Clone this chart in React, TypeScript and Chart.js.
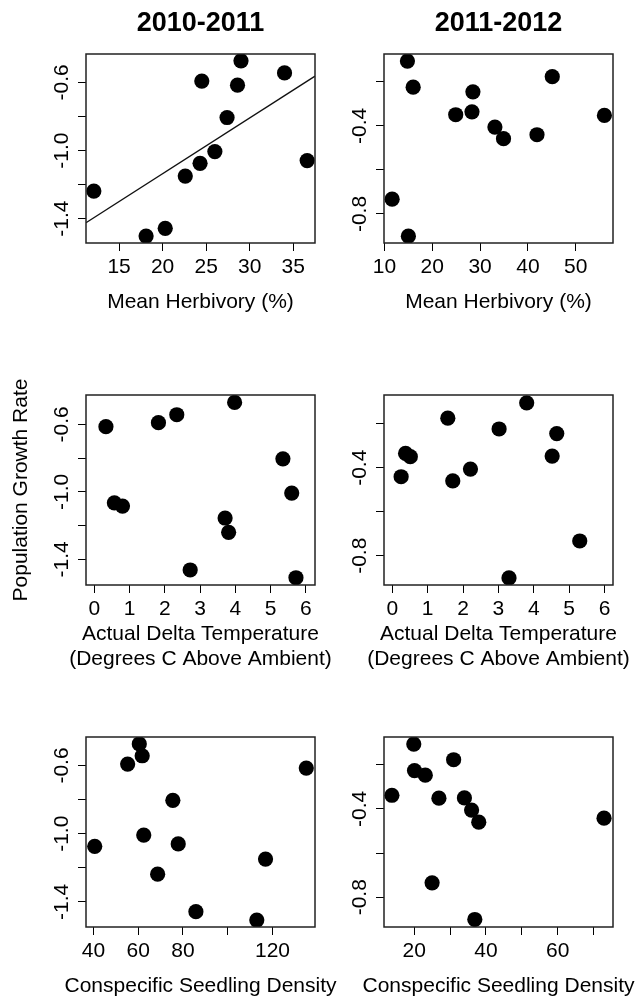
import React, { useEffect, useRef } from "react";
import { Chart, registerables } from "chart.js";

Chart.register(...registerables);

const FONT = '"Liberation Sans", Arial, Helvetica, sans-serif';

// ---------------- data ----------------
const herb1011X = [12.1, 18.1, 20.3, 22.6, 24.3, 24.5, 26.0, 27.4, 28.6, 29.0, 34.0, 36.6];
const herb1011Y = [-1.238, -1.502, -1.457, -1.15, -1.075, -0.592, -1.006, -0.806, -0.616, -0.473, -0.544, -1.059];
const herbFitX = [11.2, 37.5];
const herbFitY = [-1.424, -0.563];

const herb1112X = [14.8, 16.0, 28.5, 24.9, 28.3, 33.1, 34.9, 41.9, 45.1, 56.0, 11.6, 15.0];
const herb1112Y = [-0.105, -0.224, -0.245, -0.349, -0.336, -0.405, -0.458, -0.44, -0.176, -0.352, -0.733, -0.901];

const temp1011X = [0.33, 1.82, 2.34, 3.98, 5.35, 5.6, 0.57, 0.8, 3.71, 3.81, 2.72, 5.72];
const temp1011Y = [-0.614, -0.59, -0.543, -0.47, -0.804, -1.007, -1.065, -1.084, -1.155, -1.24, -1.463, -1.509];

const temp1112X = [0.25, 0.375, 0.51, 1.57, 1.71, 2.21, 3.02, 3.8, 4.52, 4.65, 5.3, 3.3];
const temp1112Y = [-0.441, -0.335, -0.35, -0.175, -0.46, -0.406, -0.224, -0.105, -0.347, -0.245, -0.733, -0.901];

const dens1011X = [60.5, 61.8, 55.3, 135.1, 75.5, 62.5, 40.6, 77.9, 116.9, 68.7, 85.8, 113.0];
const dens1011Y = [-0.474, -0.543, -0.592, -0.615, -0.804, -1.008, -1.074, -1.06, -1.149, -1.237, -1.457, -1.506];

const dens1112X = [19.9, 31.0, 20.1, 23.1, 13.8, 26.9, 34.0, 36.0, 38.0, 72.9, 25.0, 36.9];
const dens1112Y = [-0.106, -0.177, -0.226, -0.247, -0.338, -0.351, -0.35, -0.405, -0.46, -0.442, -0.735, -0.901];

// tick labels (R drops overlapping ones)
const yLabels1011 = ["-0.6", "-1.0", "-1.4"];
const yLabels1112 = ["-0.4", "-0.8"];
const xLabelsHerb1011 = ["15", "20", "25", "30", "35"];
const xLabelsHerb1112 = ["10", "20", "30", "40", "50"];
const xLabelsTemp = ["0", "1", "2", "3", "4", "5", "6"];
const xLabelsDens1011 = ["40", "60", "80", "120"];
const xLabelsDens1112 = ["20", "40", "60"];

const titles = ["2010-2011", "2011-2012"];
const yAxisTitle = "Population Growth Rate";
const xTitleHerb = ["Mean Herbivory (%)"];
const xTitleTemp = ["Actual Delta Temperature", "(Degrees C Above Ambient)"];
const xTitleDens = ["Conspecific Seedling Density"];

// ---------------- layout ----------------
type Panel = {
  key: string;
  x: number[];
  y: number[];
  fitX?: number[];
  fitY?: number[];
  xMin: number; xMax: number; xStep: number; xLabels: string[];
  yMin: number; yMax: number; yLabels: string[];
  xTitle: string[];
  xTitleBaselines: number[];
  yTitle?: string;
  title?: string;
  left: number; top: number; width: number; height: number;
  yAxisW: number; xAxisH: number;
  pad: { left: number; right: number; top: number; bottom: number };
};

const LEFT_COL = { left: 0, width: 360, yAxisW: 86, padR: 45 };
const RIGHT_COL = { left: 300, width: 336, yAxisW: 84, padR: 23 };
const ROW1 = { top: 0, height: 320, padT: 54, padB: 7, xAxisH: 70 };
const ROW2 = { top: 330, height: 350, padT: 65, padB: 10, xAxisH: 85 };
const ROW3 = { top: 690, height: 307, padT: 47, padB: 0, xAxisH: 70 };
const ONE_LINE_BASELINE = [64.5];
const TWO_LINE_BASELINES = [55, 79.5];

function geom(col: typeof LEFT_COL, row: typeof ROW1) {
  return {
    left: col.left, top: row.top, width: col.width, height: row.height,
    yAxisW: col.yAxisW, xAxisH: row.xAxisH,
    pad: { left: 0, right: col.padR, top: row.padT, bottom: row.padB },
  };
}

const panels: Panel[] = [
  {
    key: "p1", x: herb1011X, y: herb1011Y, fitX: herbFitX, fitY: herbFitY,
    xMin: 11.2, xMax: 37.5, xStep: 5, xLabels: xLabelsHerb1011,
    yMin: -1.543, yMax: -0.433, yLabels: yLabels1011,
    xTitle: xTitleHerb, xTitleBaselines: ONE_LINE_BASELINE, title: titles[0], ...geom(LEFT_COL, ROW1),
  },
  {
    key: "p2", x: herb1112X, y: herb1112Y,
    xMin: 9.9, xMax: 57.8, xStep: 10, xLabels: xLabelsHerb1112,
    yMin: -0.932, yMax: -0.073, yLabels: yLabels1112,
    xTitle: xTitleHerb, xTitleBaselines: ONE_LINE_BASELINE, title: titles[1], ...geom(RIGHT_COL, ROW1),
  },
  {
    key: "p3", x: temp1011X, y: temp1011Y,
    xMin: -0.235, xMax: 6.26, xStep: 1, xLabels: xLabelsTemp,
    yMin: -1.552, yMax: -0.426, yLabels: yLabels1011,
    xTitle: xTitleTemp, xTitleBaselines: TWO_LINE_BASELINES, yTitle: yAxisTitle, ...geom(LEFT_COL, ROW2),
  },
  {
    key: "p4", x: temp1112X, y: temp1112Y,
    xMin: -0.234, xMax: 6.24, xStep: 1, xLabels: xLabelsTemp,
    yMin: -0.933, yMax: -0.0695, yLabels: yLabels1112,
    xTitle: xTitleTemp, xTitleBaselines: TWO_LINE_BASELINES, ...geom(RIGHT_COL, ROW2),
  },
  {
    key: "p5", x: dens1011X, y: dens1011Y,
    xMin: 36.7, xMax: 139.0, xStep: 20, xLabels: xLabelsDens1011,
    yMin: -1.547, yMax: -0.433, yLabels: yLabels1011,
    xTitle: xTitleDens, xTitleBaselines: ONE_LINE_BASELINE, ...geom(LEFT_COL, ROW3),
  },
  {
    key: "p6", x: dens1112X, y: dens1112Y,
    xMin: 11.6, xMax: 75.4, xStep: 10, xLabels: xLabelsDens1112,
    yMin: -0.935, yMax: -0.074, yLabels: yLabels1112,
    xTitle: xTitleDens, xTitleBaselines: ONE_LINE_BASELINE, ...geom(RIGHT_COL, ROW3),
  },
];

const boxPlugin = {
  id: "plotBox",
  afterDatasetsDraw(chart: any) {
    const { ctx, chartArea: a } = chart;
    ctx.save();
    ctx.strokeStyle = "#222";
    ctx.lineWidth = 1.5;
    ctx.strokeRect(a.left, a.top, a.right - a.left, a.bottom - a.top);
    ctx.restore();
  },
};

const textPlugin = {
  id: "panelText",
  afterDraw(chart: any, _args: any, opts: any) {
    if (!opts) return;
    const { ctx, chartArea: a } = chart;
    const cx = (a.left + a.right) / 2;
    ctx.save();
    ctx.fillStyle = "#000";
    ctx.textAlign = "center";
    ctx.textBaseline = "alphabetic";
    if (opts.title) {
      ctx.font = `bold 27px ${FONT}`;
      ctx.fillText(opts.title, cx, opts.titleBaseline);
    }
    if (opts.xTitle) {
      ctx.font = `21px ${FONT}`;
      (opts.xTitle as string[]).forEach((line: string, i: number) => {
        ctx.fillText(line, cx, a.bottom + opts.xTitleBaselines[i]);
      });
    }
    ctx.restore();
  },
};

function PanelChart({ p }: { p: Panel }) {
  const ref = useRef<HTMLCanvasElement>(null);
  useEffect(() => {
    const canvas = ref.current;
    if (!canvas) return;
    const datasets: any[] = [
      {
        data: p.x.map((v, i) => ({ x: v, y: p.y[i] })),
        backgroundColor: "#000",
        borderColor: "#000",
        pointRadius: 7.6,
        pointHoverRadius: 7.6,
        pointBorderWidth: 0,
        borderWidth: 0,
        showLine: false,
      },
    ];
    if (p.fitX && p.fitY) {
      datasets.push({
        data: p.fitX.map((v, i) => ({ x: v, y: p.fitY![i] })),
        showLine: true,
        borderColor: "#111",
        borderWidth: 1.3,
        pointRadius: 0,
        pointHoverRadius: 0,
        fill: false,
        tension: 0,
      });
    }
    const tickGrid = {
      display: true,
      drawOnChartArea: false,
      drawTicks: true,
      tickLength: 8,
      color: "#000",
      lineWidth: 1,
    };
    const chart = new Chart(canvas, {
      type: "scatter",
      data: { datasets },
      options: {
        animation: false,
        responsive: false,
        maintainAspectRatio: false,
        devicePixelRatio: 1,
        events: [],
        layout: { autoPadding: false, padding: p.pad },
        plugins: {
          legend: { display: false },
          tooltip: { enabled: false },
          title: { display: false },
          panelText: {
            title: p.title || "",
            titleBaseline: 31,
            xTitle: p.xTitle,
            xTitleBaselines: p.xTitleBaselines,
          },
        } as any,
        scales: {
          x: {
            type: "linear",
            position: "bottom",
            min: p.xMin,
            max: p.xMax,
            afterFit: (s: any) => { s.height = p.xAxisH; },
            border: { display: false },
            grid: tickGrid,
            ticks: {
              stepSize: p.xStep,
              includeBounds: false,
              autoSkip: false,
              minRotation: 0,
              maxRotation: 0,
              padding: 4,
              color: "#000",
              font: { family: FONT, size: 21 },
              callback: (v: any) => {
                const s = String(Math.round(Number(v) * 100) / 100);
                return p.xLabels.includes(s) ? s : "";
              },
            },
            title: { display: false },
          },
          y: {
            type: "linear",
            position: "left",
            min: p.yMin,
            max: p.yMax,
            afterFit: (s: any) => { s.width = p.yAxisW; },
            border: { display: false },
            grid: tickGrid,
            ticks: {
              stepSize: 0.2,
              includeBounds: false,
              autoSkip: false,
              minRotation: 90,
              maxRotation: 90,
              crossAlign: "center",
              padding: -2,
              color: "#000",
              font: { family: FONT, size: 21 },
              callback: (v: any) => {
                const s = Number(v).toFixed(1);
                return p.yLabels.includes(s) ? s : "";
              },
            },
            title: {
              display: !!p.yTitle,
              text: p.yTitle || "",
              color: "#000",
              font: { family: FONT, size: 21, lineHeight: 25 / 21 },
              padding: { top: 9, bottom: 0 },
            },
          },
        },
      } as any,
      plugins: [boxPlugin, textPlugin],
    });
    return () => chart.destroy();
  }, [p]);
  return (
    <canvas
      ref={ref}
      width={p.width}
      height={p.height}
      style={{ position: "absolute", left: p.left, top: p.top, width: p.width, height: p.height }}
    />
  );
}

export default function App() {
  return (
    <div style={{ position: "absolute", left: 0, top: 0, width: 636, height: 997, background: "#fff", overflow: "hidden" }}>
      {panels.map((p) => (
        <PanelChart key={p.key} p={p} />
      ))}
    </div>
  );
}
